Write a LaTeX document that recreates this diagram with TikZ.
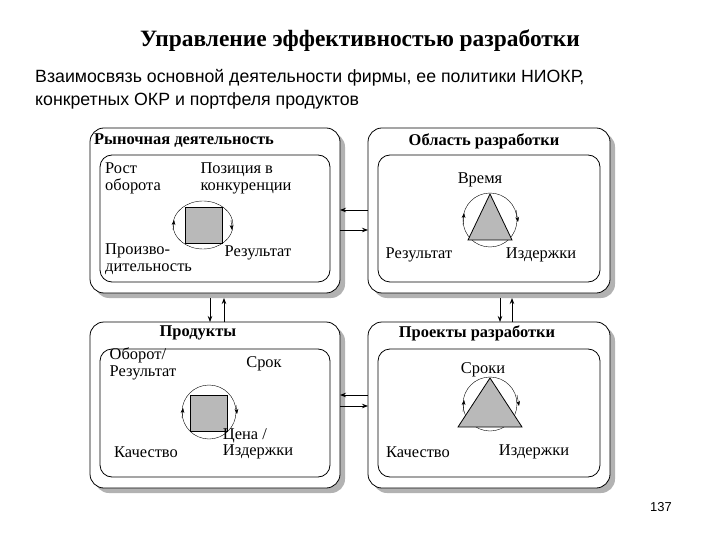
\documentclass[tikz,border=0pt]{standalone}
\usepackage{fontspec}
\setmainfont{Liberation Serif}
\newfontfamily\sans{Liberation Sans}
\usetikzlibrary{arrows.meta}
\begin{document}
\begin{tikzpicture}[x=1bp,y=-1bp,
 outer/.style={draw,thick,rounded corners=14bp,fill=white},
 shadow/.style={fill=gray!60,rounded corners=14bp},
 inner/.style={draw,thick,rounded corners=12bp},
 lbl/.style={font=\fontsize{16.5}{17}\selectfont,align=left,inner sep=0},
 head/.style={font=\bfseries\fontsize{16.5}{18}\selectfont,inner sep=0},
 conn/.style={thick,-{Stealth[length=6bp]}},
 cyc/.style={thin,-{Stealth[length=5bp]}}]
\useasboundingbox (0,0) rectangle (720,540);
\node[font=\bfseries\fontsize{23.5}{25}\selectfont] (title) at (360,41) {Управление эффективностью разработки};
\node[font=\sans\fontsize{17.8}{23}\selectfont,align=left,anchor=north west,inner sep=0] (sub) at (35,69) {Взаимосвязь основной деятельности фирмы, ее политики НИОКР,\\ конкретных ОКР и  портфеля продуктов};
\node[font=\sans\fontsize{13}{14}\selectfont] (pg) at (661,507) {137};
% boxes
\foreach \n/\x/\y/\w/\h in {tl/90/128/250/165, tr/368/128/242/165, bl/90/322/250/166, br/368/322/242/166}{
 \fill[shadow] (\x+5,\y+5) rectangle ++(\w,\h);
 \draw[outer] (\x,\y) rectangle ++(\w,\h);
 \draw[inner] (\x+10,\y+27) rectangle ++(\w-20,\h-38);
}
\node[head,anchor=west] (h1) at (94,141) {Рыночная деятельность};
\node[head] (h2) at (484,141) {Область разработки};
\node[head] (h3) at (198,333) {Продукты};
\node[head] (h4) at (477,333) {Проекты разработки};
% TL content
\draw[thin] (203,225) ellipse (30 and 24);
\draw[thick,fill=gray!55] (185,207) rectangle (222,243);
\draw[cyc] (231,220) -- (232,230);
\draw[cyc] (173,230) -- (174,220);
\node[lbl,anchor=north west] (t1) at (105,163) {Рост\\оборота};
\node[lbl,anchor=north] (t2) at (246,163) {Позиция в\\конкуренции};
\node[lbl,anchor=north west] (t3) at (105,244) {Произво-\\дительность};
\node[lbl] (t4) at (258,253) {Результат};
% TR content
\draw[thin] (490,220) circle (27);
\draw[thick,fill=gray!55] (490,194) -- (468,240) -- (512,240) -- cycle;
\draw[cyc] (516,210) -- (518,222);
\draw[cyc] (463,225) -- (464,213);
\node[lbl] (r1) at (480,180) {Время};
\node[lbl] (r2) at (419,255) {Результат};
\node[lbl] (r3) at (541,255) {Издержки};
% BL content
\draw[thin] (209,412) circle (27);
\draw[thick,fill=gray!55] (190,395) rectangle (227,431);
\draw[cyc] (236,405) -- (237,414);
\draw[cyc] (182,418) -- (183,408);
\node[lbl,anchor=north] (b1) at (143,348) {Оборот/\\Результат};
\node[lbl] (b2) at (264,364) {Срок};
\node[lbl] (b3) at (146,452) {Качество};
\node[lbl,anchor=north] (b4) at (258,428) {Цена /\\Издержки};
% BR content
\draw[thin] (490,404) circle (27);
\draw[thick,fill=gray!55] (490,378) -- (458,427) -- (522,427) -- cycle;
\draw[cyc] (517,395) -- (519,406);
\draw[cyc] (463,412) -- (464,400);
\node[lbl] (p1) at (483,370) {Сроки};
\node[lbl] (p2) at (418,452) {Качество};
\node[lbl] (p3) at (534,452) {Издержки};
% connectors
\coordinate (a1) at (368,210); \coordinate (a2) at (340,210);
\draw[conn] (a1) -- (a2);
\coordinate (a3) at (340,230); \coordinate (a4) at (368,230);
\draw[conn] (a3) -- (a4);
\coordinate (c1) at (340,395); \coordinate (c2) at (368,395);
\draw[conn] (c2) -- (c1);
\coordinate (c3) at (340,406); \coordinate (c4) at (368,406);
\draw[conn] (c3) -- (c4);
\coordinate (v1) at (210,298); \coordinate (v2) at (210,322);
\draw[conn] (v1) -- (v2);
\coordinate (v3) at (224,322); \coordinate (v4) at (224,298);
\draw[conn] (v3) -- (v4);
\coordinate (w1) at (500,298); \coordinate (w2) at (500,322);
\draw[conn] (w1) -- (w2);
\coordinate (w3) at (512,322); \coordinate (w4) at (512,298);
\draw[conn] (w3) -- (w4);
\end{tikzpicture}
\end{document}
